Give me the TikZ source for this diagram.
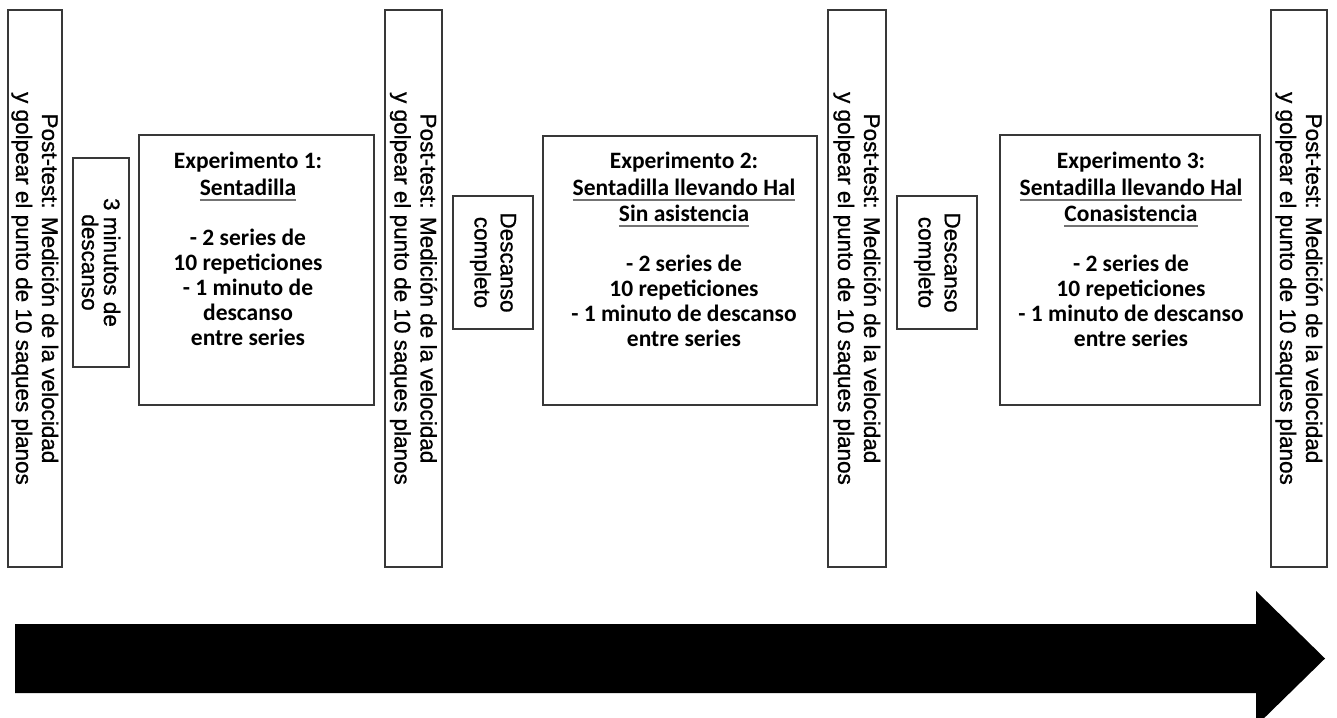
\documentclass[tikz,border=0pt]{standalone}
\usepackage{fontspec}
\setmainfont{Carlito}
\newfontfamily\vfont[FakeBold=0.9]{Liberation Sans}
% grey rule under a heading line
\newcommand\ulgray[1]{\setbox0\hbox{#1}\rlap{\color{black!55}\rule[-5pt]{\wd0}{1.3pt}}\box0}

\begin{document}
\begin{tikzpicture}[x=1pt,y=-1pt,
  frame/.style={draw=black!78, line width=1.5pt, anchor=north west, inner sep=0pt, outer sep=0pt},
  vtext/.style={rotate=-90, align=center, inner sep=0pt,
    font=\vfont\fontsize{22.5}{26}\selectfont},
  exptext/.style={align=center, inner sep=0pt, anchor=north,
    font=\bfseries\fontsize{23.5}{25}\selectfont},
]
\useasboundingbox (0,0) rectangle (1337,717);

% post-test columns
\node[frame, minimum width=54pt, minimum height=557pt] (post1) at (8,10) {};
\node[frame, minimum width=57pt, minimum height=557pt] (post2) at (385,10) {};
\node[frame, minimum width=58pt, minimum height=557pt] (post3) at (828,10) {};
\node[frame, minimum width=56pt, minimum height=557pt] (post4) at (1271,10) {};
\foreach \p in {post1,post2,post3,post4}
  \node[vtext] (\p-t) at (\p.center)
    {Post-test: Medición de la velocidad\\y golpear el punto de 10 saques planos};

% rest boxes
\node[frame, minimum width=56pt, minimum height=209pt] (rest0) at (73,158) {};
\node[vtext, font=\vfont\fontsize{22.5}{22}\selectfont] (rest0-t) at (rest0.center) {3 minutos de\\descanso};
\node[frame, minimum width=80pt, minimum height=133pt] (rest1) at (453,196) {};
\node[vtext] (rest1-t) at (rest1.center) {Descanso\\completo};
\node[frame, minimum width=80pt, minimum height=133pt] (rest2) at (897,196) {};
\node[vtext] (rest2-t) at (rest2.center) {Descanso\\completo};

% experiment boxes
\node[frame, minimum width=235pt, minimum height=270pt] (exp1) at (139,135) {};
\node[frame, minimum width=274pt, minimum height=269pt] (exp2) at (543,136) {};
\node[frame, minimum width=260pt, minimum height=270pt] (exp3) at (1000,135) {};

\node[exptext] (exp1-t) at (248,152)
  {Experimento 1:\\[2pt]\ulgray{Sentadilla}\\[25pt]- 2 series de\\10 repeticiones\\- 1 minuto de\\descanso\\entre series};
\node[exptext] (exp2-t) at (684,152)
  {Experimento 2:\\[2pt]\ulgray{Sentadilla llevando Hal}\\[1pt]\ulgray{Sin asistencia}\\[25pt]- 2 series de\\10 repeticiones\\- 1 minuto de descanso\\entre series};
\node[exptext] (exp3-t) at (1131,152)
  {Experimento 3:\\[2pt]\ulgray{Sentadilla llevando Hal}\\[1pt]\ulgray{Conasistencia}\\[25pt]- 2 series de\\10 repeticiones\\- 1 minuto de descanso\\entre series};

% time arrow
\fill[black] (15,624) -- (1256,624) -- (1256,591) -- (1325,658.5)
  -- (1256,726) -- (1256,693) -- (15,693) -- cycle;
\end{tikzpicture}
\end{document}
